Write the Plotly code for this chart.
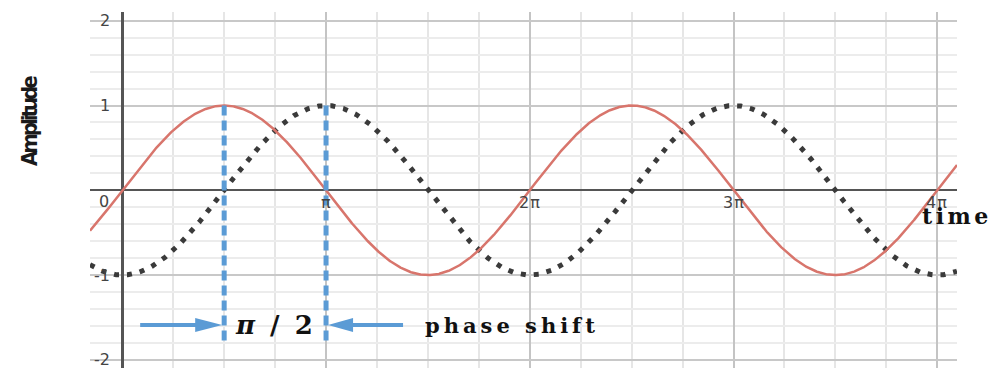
import numpy as np
import plotly.graph_objects as go

PI = np.pi

# Wave parameters
AMPLITUDE = 1.0
PHASE_SHIFT = PI / 2          # delay of the dotted wave behind the solid one

# Visible window
X_RANGE = [-0.1585 * PI, 4.0967 * PI]
Y_RANGE = [-2.096, 2.103]

# Axis labels drawn Desmos-style inside the plot
X_TICK_VALUES = [PI, 2 * PI, 3 * PI, 4 * PI]
X_TICK_LABELS = ["π", "2π", "3π", "4π"]
Y_TICK_VALUES = [2, 1, -1, -2]
Y_TICK_LABELS = ["2", "1", "-1", "-2"]

# Markers for the phase-shift annotation
MARK_X = [PI / 2, PI]         # peaks of the two waves
MARK_Y_TOP = 1.0
MARK_Y_BOTTOM = -1.83
ARROW_Y = -1.59

RED = "#d8756c"
DOTS = "#3a3a3a"
BLUE = "#5b9bd5"

t = np.linspace(X_RANGE[0], X_RANGE[1], 1500)
solid_wave = AMPLITUDE * np.sin(t)
shifted_wave = AMPLITUDE * np.sin(t - PHASE_SHIFT)

fig = go.Figure()
fig.add_trace(go.Scatter(
    x=t, y=shifted_wave, mode="lines",
    line=dict(color=DOTS, width=5, dash="5px,8px"),
    hoverinfo="skip", showlegend=False,
))
fig.add_trace(go.Scatter(
    x=t, y=solid_wave, mode="lines",
    line=dict(color=RED, width=2.5),
    hoverinfo="skip", showlegend=False,
))

shapes = []
# dashed verticals at the two peaks
for xm in MARK_X:
    shapes.append(dict(
        type="line", xref="x", yref="y", x0=xm, x1=xm,
        y0=MARK_Y_TOP, y1=MARK_Y_BOTTOM,
        line=dict(color=BLUE, width=5, dash="10px,5px"), layer="above",
    ))

# arrow pointing right onto the first marker
shapes.append(dict(
    type="line", xref="x", yref="y", xsizemode="pixel", xanchor=MARK_X[0],
    x0=-84, x1=-24, y0=ARROW_Y, y1=ARROW_Y,
    line=dict(color=BLUE, width=4), layer="above",
))
shapes.append(dict(
    type="path", xref="x", yref="y", xsizemode="pixel", ysizemode="pixel",
    xanchor=MARK_X[0], yanchor=ARROW_Y,
    path="M -2,0 L -29,7 L -29,-7 Z",
    fillcolor=BLUE, line=dict(width=0), layer="above",
))
# arrow pointing left onto the second marker
shapes.append(dict(
    type="line", xref="x", yref="y", xsizemode="pixel", xanchor=MARK_X[1],
    x0=22, x1=77, y0=ARROW_Y, y1=ARROW_Y,
    line=dict(color=BLUE, width=4), layer="above",
))
shapes.append(dict(
    type="path", xref="x", yref="y", xsizemode="pixel", ysizemode="pixel",
    xanchor=MARK_X[1], yanchor=ARROW_Y,
    path="M 2,0 L 27,7 L 27,-7 Z",
    fillcolor=BLUE, line=dict(width=0), layer="above",
))

tick_font = dict(family="DejaVu Sans", size=16, color="#444")
annotations = []
for v, lab in zip(Y_TICK_VALUES, Y_TICK_LABELS):
    annotations.append(dict(
        x=0, y=v, xref="x", yref="y", text=lab, showarrow=False,
        xanchor="right", yanchor="middle", xshift=-10, font=tick_font,
    ))
annotations.append(dict(
    x=0, y=0, xref="x", yref="y", text="0", showarrow=False,
    xanchor="right", yanchor="middle", xshift=-11, yshift=-11, font=tick_font,
))
for v, lab in zip(X_TICK_VALUES, X_TICK_LABELS):
    annotations.append(dict(
        x=v, y=0, xref="x", yref="y",
        text=f'<span style="letter-spacing:1px">{lab}</span>', showarrow=False,
        xanchor="center", yanchor="middle", yshift=-12, font=tick_font,
    ))

serif_bold = "DejaVu Serif"
annotations += [
    dict(x=0.75 * PI, y=ARROW_Y, xref="x", yref="y",
         text='<b><span style="letter-spacing:3px"><i>π</i> / 2</span></b>',
         showarrow=False, xanchor="center", yanchor="middle",
         font=dict(family=serif_bold, size=26, color="#111")),
    dict(x=1.476 * PI, y=ARROW_Y, xref="x", yref="y",
         text='<b><span style="letter-spacing:4px">phase shift</span></b>',
         showarrow=False, xanchor="left", yanchor="middle",
         font=dict(family=serif_bold, size=21, color="#111")),
    dict(x=3.915 * PI, y=-0.30, xref="x", yref="y",
         text='<b><span style="letter-spacing:3.5px">time</span></b>',
         showarrow=False, xanchor="left", yanchor="middle",
         font=dict(family=serif_bold, size=22, color="#111")),
    dict(x=-0.069, y=0.694, xref="paper", yref="paper",
         text='<b><span style="letter-spacing:-3px">Amplitude</span></b>',
         showarrow=False, textangle=-90, xanchor="center", yanchor="middle",
         font=dict(family="Liberation Sans Narrow, DejaVu Sans Condensed, sans-serif",
                   size=22, color="#1a1a1a")),
]

fig.update_layout(
    width=994, height=368,
    margin=dict(l=90, r=37, t=12, b=0),
    paper_bgcolor="white", plot_bgcolor="white",
    shapes=shapes, annotations=annotations,
    xaxis=dict(
        range=X_RANGE, tick0=0, dtick=PI, showticklabels=False, ticks="",
        showgrid=True, gridcolor="#c4c4c4", gridwidth=2,
        minor=dict(tick0=0, dtick=PI / 4, showgrid=True,
                   gridcolor="#e6e6e6", gridwidth=2),
        zeroline=True, zerolinecolor="#555", zerolinewidth=2.5,
        showline=False, fixedrange=True,
    ),
    yaxis=dict(
        range=Y_RANGE, tick0=0, dtick=1, showticklabels=False, ticks="",
        showgrid=True, gridcolor="#c8c8c8", gridwidth=1.5,
        minor=dict(tick0=0, dtick=0.2, showgrid=True,
                   gridcolor="#ececec", gridwidth=1.5),
        zeroline=True, zerolinecolor="#555", zerolinewidth=2,
        showline=False, fixedrange=True,
    ),
)

fig.write_html("out.html")
